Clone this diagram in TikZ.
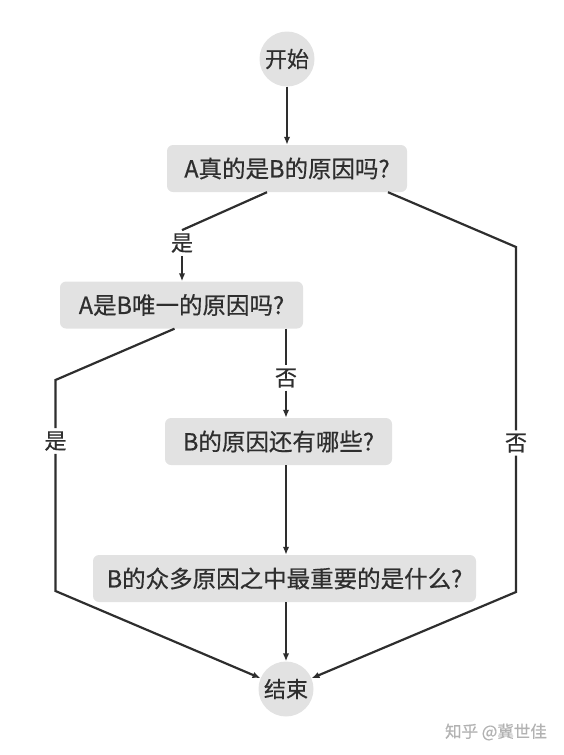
\documentclass[tikz,border=0pt]{standalone}
\usepackage{fontspec}
\setmainfont{Noto Sans CJK SC}[FakeBold=0.5]
\usetikzlibrary{arrows.meta}
\definecolor{boxgray}{HTML}{E2E2E2}
\definecolor{inkgray}{HTML}{2E2E2E}

\begin{document}
\begin{tikzpicture}[x=1pt,y=-1pt,
    term/.style={circle,fill=boxgray,minimum size=55pt,inner sep=0pt,
      font=\fontsize{22}{26}\selectfont,text=inkgray},
    ask/.style={rectangle,rounded corners=6pt,fill=boxgray,minimum height=47pt,
      inner xsep=0pt,font=\fontsize{23.5}{28}\selectfont,text=inkgray},
    answer/.style={inner sep=3pt,font=\fontsize{22}{26}\selectfont,text=inkgray},
    line/.style={draw=inkgray,line width=2.2pt},
    arr/.style={line,-{Latex[length=8pt,width=6.5pt]}},
    stampnote/.style={font=\fontsize{16.5}{19}\selectfont,text=black!30}]
      \useasboundingbox (0,0) rectangle (563,755);
      % nodes
      \node[term] (start) at (287,59) {开始};
      \node[ask,minimum width=240pt] (q1) at (287,168.5) {A真的是B的原因吗?};
      \node[answer] (yes1) at (182,243) {是};
      \node[ask,minimum width=243pt] (q2) at (181.5,305) {A是B唯一的原因吗?};
      \node[answer] (no2) at (286,378) {否};
      \node[ask,minimum width=227pt] (q3) at (278.5,441.5) {B的原因还有哪些?};
      \node[ask,minimum width=383pt] (q4) at (284.5,578.5) {B的众多原因之中最重要的是什么?};
      \node[term] (stop) at (286,689) {结束};
      \node[answer] (yes2) at (55.5,441) {是};
      \node[answer] (no1) at (516,443) {否};
      \node[stampnote] (credit) at (496,732) {知乎 @冀世佳};
      % corners of the side branches
      \coordinate (r1) at (516,247);
      \coordinate (r2) at (516,592);
      \coordinate (l1) at (55.5,380);
      \coordinate (l2) at (55.5,591);
      % connectors
      \draw[arr] (start) -- (q1);
      \draw[line] ([xshift=-20pt]q1.south) -- (yes1.north);
      \draw[arr] (yes1) -- (yes1 |- q2.north);
      \draw[line] ([xshift=101pt]q1.south) -- (r1) -- (no1);
      \draw[arr] (no1) -- (r2) -- (stop);
      \draw[line] ([xshift=-7pt]q2.south) -- (l1) -- (yes2);
      \draw[arr] (yes2) -- (l2) -- (stop);
      \draw[line] (q2.south -| no2) -- (no2);
      \draw[arr] (no2) -- (q3.north -| no2);
      \draw[arr] (q3.south -| no2) -- (q4.north -| no2);
      \draw[arr] (q4.south -| no2) -- (stop);
    \end{tikzpicture}
\end{document}
